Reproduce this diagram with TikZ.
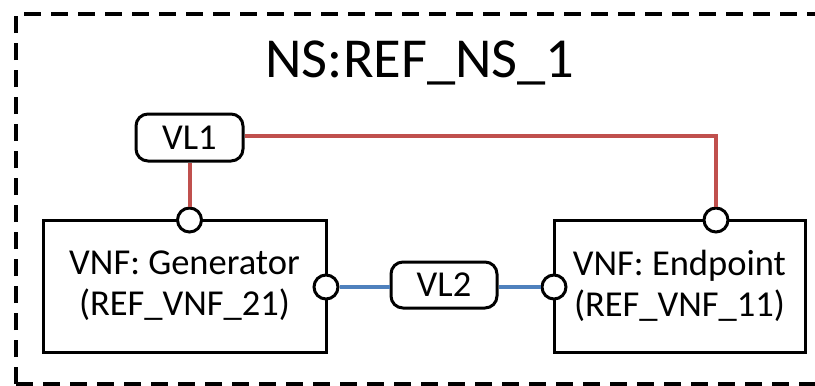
\documentclass[tikz,border=0pt]{standalone}
\usepackage{fontspec}
\setmainfont{Carlito}
\usetikzlibrary{calc}
\definecolor{linkred}{HTML}{C0504D}
\definecolor{linkblue}{HTML}{4F81BD}
\begin{document}
\begin{tikzpicture}[x=1pt,y=-1pt,
  vnfbox/.style={draw=black,line width=3pt,minimum width=#1,minimum height=132pt,inner sep=0pt,align=center,font=\fontsize{36.5}{41}\selectfont},
  vlbox/.style={draw=black,line width=3pt,rounded corners=12pt,minimum width=107pt,minimum height=47pt,inner sep=0pt,font=\fontsize{36.5}{41}\selectfont},
  port/.style={circle,draw=black,fill=white,line width=3pt,minimum size=24pt,inner sep=0pt},
  redlink/.style={draw=linkred,line width=4pt},
  bluelink/.style={draw=linkblue,line width=4pt},
  border/.style={draw=black,line width=3.5pt,dash pattern=on 17pt off 10pt}]
\useasboundingbox (0,0) rectangle (815,386);
\draw[border] (16,384) -- (16,14) -- (840,14);
\draw[border] (16,384) -- (840,384);
\node[anchor=base,font=\fontsize{56.5}{60}\selectfont] (title) at (420,77) {NS:REF\_NS\_1};
\node[vnfbox=283pt] (gen) at (184.5,286) {VNF: Generator\\(REF\_VNF\_21)};
\node[vnfbox=251pt] (endp) at (679.5,286) {VNF: Endpoint\\(REF\_VNF\_11)};
\node[vlbox] (vl1) at (189.5,137.5) {VL1};
\node[vlbox,minimum width=106pt,minimum height=46pt] (vl2) at (444,285) {VL2};
\node[port] (gtop) at (189.5,220) {};
\node[port] (gright) at (326,287) {};
\node[port] (eleft) at (554,287) {};
\node[port] (etop) at (716,220) {};
\draw[redlink] (vl1.south) -- (gtop.north);
\draw[redlink] (vl1.east |- 0,136) -| (etop.north);
\draw[bluelink] (gright.east) -- (gright.east -| vl2.west);
\draw[bluelink] (vl2.east |- eleft.west) -- (eleft.west);
\end{tikzpicture}
\end{document}
